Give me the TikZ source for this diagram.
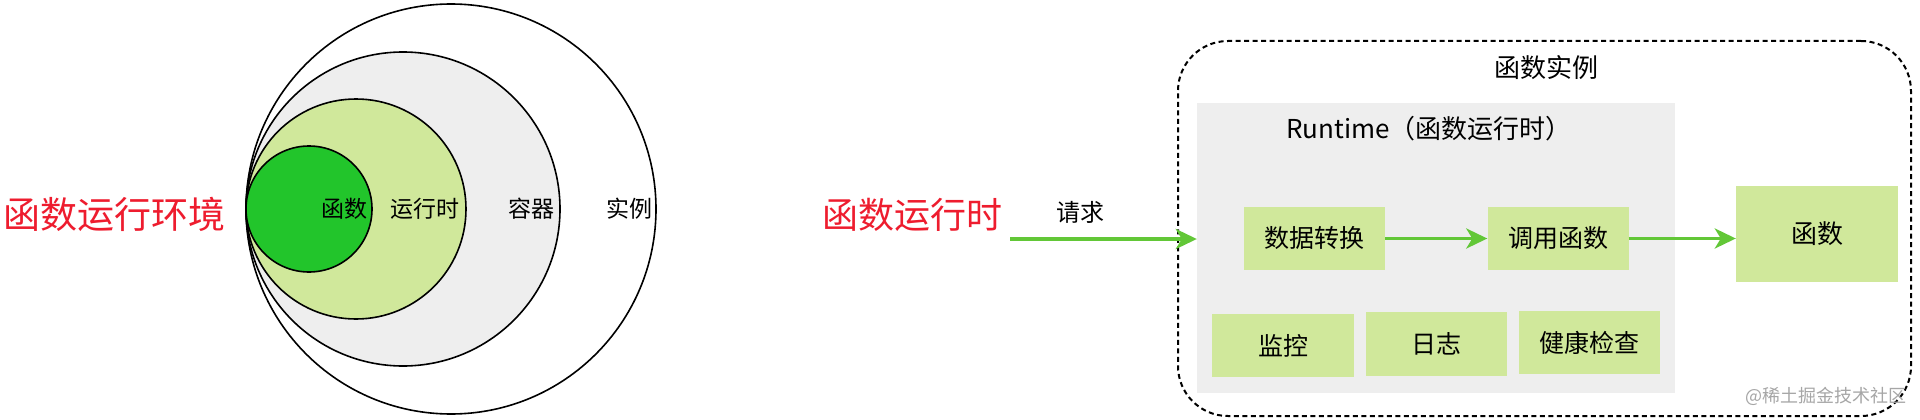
\documentclass[tikz,border=0pt]{standalone}
\usepackage{fontspec}
\setmainfont{Noto Sans CJK SC}
\usetikzlibrary{arrows.meta}
\definecolor{dkgreen}{HTML}{22C52B}
\definecolor{ltgreen}{HTML}{D0E89B}
\definecolor{grayfill}{HTML}{EEEEEE}
\definecolor{arrgreen}{HTML}{62C737}
\definecolor{redtxt}{HTML}{EE1C2E}
\tikzset{
  circ/.style={circle, draw=black, line width=1.6pt, inner sep=0pt},
  lbl/.style={inner sep=0pt, font=\fontsize{23}{23}\selectfont},
  bigred/.style={inner sep=0pt, text=redtxt, font=\fontsize{37}{37}\selectfont},
  gbox/.style={rectangle, fill=ltgreen, inner sep=0pt, font=\fontsize{25}{25}\selectfont},
  title/.style={inner sep=0pt, font=\fontsize{26}{26}\selectfont},
  arr/.style={draw=arrgreen, line width=3.5pt, -{Stealth[length=21pt,width=20pt,inset=6pt]}},
}
\begin{document}
\begin{tikzpicture}[x=1pt,y=-1pt]
\useasboundingbox[fill=white] (0,0) rectangle (1920,420);
% left diagram
\node[bigred] (envlbl) at (114,214) {函数运行环境};
\node[circ, fill=white, minimum size=410pt] (inst) at (451,209) {};
\node[circ, fill=grayfill, minimum size=314pt] (cont) at (403,209) {};
\node[circ, fill=ltgreen, minimum size=220pt] (rtc) at (356,209) {};
\node[circ, fill=dkgreen, minimum size=126pt] (fnc) at (309,209) {};
\node[lbl] (fnl) at (344,209) {函数};
\node[lbl] (rtl) at (425,209) {运行时};
\node[lbl] (contl) at (531,209) {容器};
\node[lbl] (instl) at (629,209) {实例};
% right diagram
\node[bigred, font=\fontsize{36}{36}\selectfont] (rtred) at (912,215) {函数运行时};
\node[rectangle, draw=black, line width=2pt, dash pattern=on 5pt off 3.5pt, rounded corners=50pt, minimum width=733pt, minimum height=375pt] (instbox) at (1544.5,228.5) {};
\node[title] (instt) at (1546,68) {函数实例};
\node[rectangle, fill=grayfill, minimum width=478pt, minimum height=290pt] (rtbox) at (1436,248) {};
\node[title] (rtt) at (1429,129) {Runtime（函数运行时）};
\node[gbox, minimum width=141pt, minimum height=63pt] (conv) at (1314.5,238.5) {数据转换};
\node[gbox, minimum width=141pt, minimum height=63pt] (call) at (1558,238.5) {调用函数};
\node[gbox, minimum width=162pt, minimum height=96pt, font=\fontsize{26}{26}\selectfont] (fnbox) at (1817,234) {函数};
\node[gbox, minimum width=142pt, minimum height=63pt] (mon) at (1283,345.5) {监控};
\node[gbox, minimum width=141pt, minimum height=64pt] (log) at (1436.5,344) {日志};
\node[gbox, minimum width=141pt, minimum height=63pt] (health) at (1589.5,342.5) {健康检查};
\node[lbl, font=\fontsize{24}{24}\selectfont] (req) at (1080,212) {请求};
\coordinate (reqstart) at (1010,239);
\draw[arr] (reqstart) -- (reqstart -| rtbox.west);
\draw[arr] (conv.east) -- (call.west);
\draw[arr] (call.east) -- (call.east -| fnbox.west);
\node[inner sep=0pt, text=black!35, font=\fontsize{18}{18}\selectfont] (wm) at (1826,396) {@稀土掘金技术社区};
\end{tikzpicture}
\end{document}
